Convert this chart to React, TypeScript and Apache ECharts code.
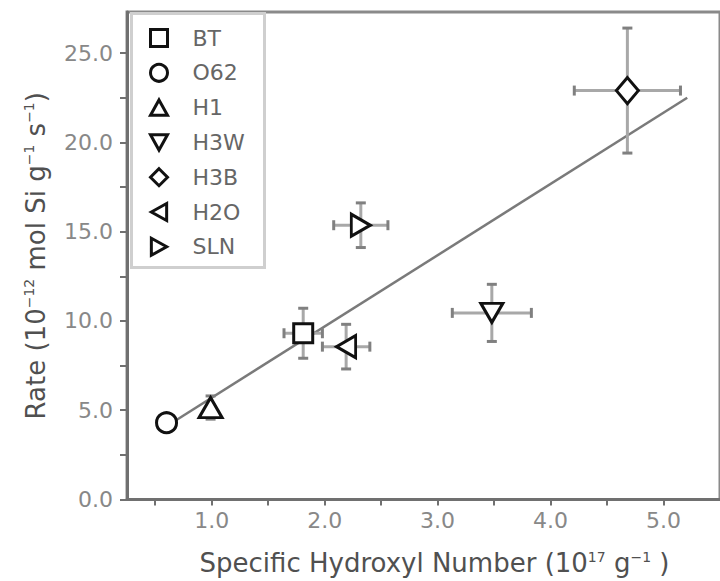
import React, { useEffect, useRef } from "react";
import * as echarts from "echarts";

const categories = ["BT", "O62", "H1", "H3W", "H3B", "H2O", "SLN"];
const xValues = [1.81, 0.6, 0.99, 3.48, 4.68, 2.19, 2.32];
const yValues = [9.31, 4.3, 5.15, 10.45, 22.9, 8.56, 15.36];
const xErrors = [0.17, 0, 0, 0.35, 0.47, 0.21, 0.24];
const yErrors = [1.4, 0, 0.65, 1.6, 3.5, 1.25, 1.25];
const symbols = [
  "rect",
  "circle",
  "path://M5,0L10,9L0,9Z",
  "path://M0,0L10,0L5,9Z",
  "diamond",
  "path://M0,5L9,0L9,10Z",
  "path://M0,0L9,5L0,10Z",
];
const symbolSizes: (number | number[])[] = [19, 20, [23, 20], [22, 19], [22, 26], [19, 22], [19, 22]];
const fitX = [0.6, 5.21];
const fitY = [4.1, 22.5];
const xTickValues = [0.5, 1, 1.5, 2, 2.5, 3, 3.5, 4, 4.5, 5];
const xLabelValues = [1, 2, 3, 4, 5];

const FONT = "DejaVu Sans";

export default function App() {
  const ref = useRef<HTMLDivElement>(null);
  useEffect(() => {
    document.body.style.margin = "0";
    const chart = echarts.init(ref.current!, null, { renderer: "svg" });
    const pointSeries = categories.map((name, i) => ({
      name,
      type: "scatter",
      symbol: symbols[i],
      symbolSize: symbolSizes[i],
      z: 5,
      itemStyle: { color: "#fff", borderColor: "#111", borderWidth: 3, opacity: 1 },
      data: [[xValues[i], yValues[i]]],
    }));
    const errData = categories.map((_, i) => [xValues[i], yValues[i], xErrors[i], yErrors[i]]);
    const cap = 5;
    const titleRich = {
      t: { fontSize: 26, color: "#505050", fontFamily: FONT },
      sup: { fontSize: 14, color: "#505050", fontFamily: FONT, padding: [0, 0, 13, 0] },
    };
    chart.setOption({
      animation: false,
      grid: { left: 127, top: 12, right: -10, bottom: 81, show: true, borderColor: "#8a8a8a", borderWidth: 3 },
      graphic: [
        {
          type: "rect",
          left: 130,
          top: 12,
          shape: { width: 133, height: 254 },
          style: { fill: "#fff", stroke: "#cfcfcf", lineWidth: 3 },
          z: 1,
        },
      ],
      legend: {
        data: categories,
        orient: "vertical",
        left: 130,
        top: 12,
        padding: [14.5, 10, 11, 19],
        itemWidth: 17,
        itemHeight: 17,
        itemGap: 11.8,
        z: 10,
        itemStyle: { color: "#fff", borderColor: "#111", borderWidth: 3 },
        textStyle: { fontSize: 22, color: "#666", fontFamily: FONT, lineHeight: 23, padding: [0, 0, 0, 20] },
      },
      xAxis: {
        type: "value",
        min: 0.25,
        max: 5.5,
        splitLine: { show: false },
        axisLine: { lineStyle: { color: "#707070", width: 3 } },
        axisTick: { customValues: xTickValues, length: 6, lineStyle: { color: "#707070", width: 2 } },
        axisLabel: {
          customValues: xLabelValues,
          formatter: (v: number) => v.toFixed(1),
          fontSize: 22,
          color: "#888",
          fontFamily: FONT,
          margin: 10,
        },
        name: "{t|Specific Hydroxyl Number (10}{sup|17}{t| g}{sup|−1}{t| )}",
        nameLocation: "middle",
        nameGap: 50,
        nameTextStyle: { rich: titleRich, padding: [0, 0, 0, 22] },
      },
      yAxis: {
        type: "value",
        min: 0,
        max: 27.3,
        interval: 2.5,
        splitLine: { show: false },
        axisLine: { lineStyle: { color: "#707070", width: 3 } },
        axisTick: { length: 7, lineStyle: { color: "#707070", width: 2 } },
        axisLabel: {
          formatter: (v: number) => (Math.abs(v % 5) < 1e-6 ? v.toFixed(1) : ""),
          fontSize: 22,
          color: "#888",
          fontFamily: FONT,
          margin: 14,
          showMaxLabel: false,
        },
        name: "{t|Rate (10}{sup|−12}{t| mol Si g}{sup|−1}{t| s}{sup|−1}{t|)}",
        nameLocation: "middle",
        nameRotate: 90,
        nameGap: 78,
        nameTextStyle: { rich: titleRich },
      },
      series: [
        {
          type: "line",
          data: fitX.map((x, i) => [x, fitY[i]]),
          symbol: "none",
          z: 2,
          lineStyle: { color: "#7a7a7a", width: 2.5 },
          silent: true,
        },
        {
          type: "custom",
          z: 3,
          silent: true,
          data: errData,
          encode: { x: 0, y: 1 },
          renderItem: (params: any, api: any) => {
            const x = api.value(0);
            const y = api.value(1);
            const xe = api.value(2);
            const ye = api.value(3);
            const children: any[] = [];
            const bar = { stroke: "#a8a8a8", lineWidth: 3 };
            const capS = { stroke: "#808080", lineWidth: 3 };
            if (ye > 0) {
              const top = api.coord([x, y + ye]);
              const bot = api.coord([x, y - ye]);
              children.push({ type: "line", shape: { x1: top[0], y1: top[1], x2: bot[0], y2: bot[1] }, style: bar });
              children.push({ type: "line", shape: { x1: top[0] - cap, y1: top[1], x2: top[0] + cap, y2: top[1] }, style: capS });
              children.push({ type: "line", shape: { x1: bot[0] - cap, y1: bot[1], x2: bot[0] + cap, y2: bot[1] }, style: capS });
            }
            if (xe > 0) {
              const l = api.coord([x - xe, y]);
              const r = api.coord([x + xe, y]);
              children.push({ type: "line", shape: { x1: l[0], y1: l[1], x2: r[0], y2: r[1] }, style: bar });
              children.push({ type: "line", shape: { x1: l[0], y1: l[1] - cap, x2: l[0], y2: l[1] + cap }, style: capS });
              children.push({ type: "line", shape: { x1: r[0], y1: r[1] - cap, x2: r[0], y2: r[1] + cap }, style: capS });
            }
            return { type: "group", children };
          },
        },
        ...pointSeries,
      ],
    });
    return () => chart.dispose();
  }, []);
  return <div ref={ref} style={{ width: 720, height: 581 }} />;
}
